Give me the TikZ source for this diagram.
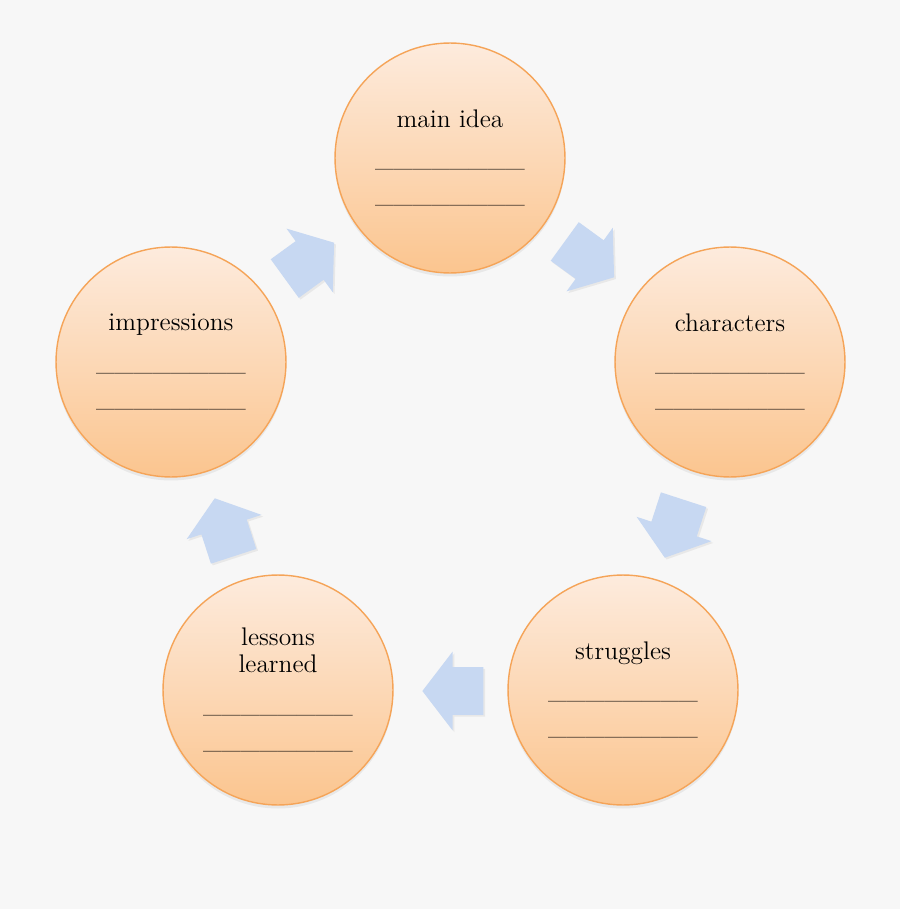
\documentclass[tikz,border=0pt]{standalone}
\usetikzlibrary{shapes.arrows,shadows}
\definecolor{bgcol}{HTML}{F7F7F7}
\definecolor{ringtop}{HTML}{FDEBDD}
\definecolor{ringbot}{HTML}{FBC58F}
\definecolor{ringedge}{HTML}{F5A458}
\definecolor{arrfill}{HTML}{C7D8F2}
\newcommand\blanks{\_\_\_\_\_\_\_\_}
\begin{document}
\begin{tikzpicture}[x=0.02cm,y=-0.02cm,
  topic/.style={circle, minimum size=4.6cm, inner sep=0pt, draw=ringedge, line width=0.8pt,
    top color=ringtop, bottom color=ringbot, align=center,
    font=\fontsize{14.5}{15.5}\selectfont,
    drop shadow={opacity=0.12, shadow xshift=0pt, shadow yshift=-2pt}},
  flow/.style={single arrow, minimum height=1.22cm, inner xsep=0pt, inner ysep=0.47cm,
    single arrow head extend=0.31cm, single arrow tip angle=105, fill=arrfill,
    drop shadow={opacity=0.12, shadow xshift=1pt, shadow yshift=-1pt}}]
\fill[bgcol] (0,0) rectangle (900,909);
\useasboundingbox (0,0) rectangle (900,909);
\node[topic] (c0) at (450,158){main idea\\[7pt]\blanks\\[5pt]\blanks};
\node[topic] (c1) at (730,362){characters\\[7pt]\blanks\\[5pt]\blanks};
\node[topic] (c2) at (623,690){struggles\\[7pt]\blanks\\[5pt]\blanks};
\node[topic] (c3) at (278,690){lessons\\learned\\[7pt]\blanks\\[5pt]\blanks};
\node[topic] (c4) at (171,362){impressions\\[7pt]\blanks\\[5pt]\blanks};
\node[flow, rotate=-36] (a0) at (582,254){};
\node[flow, rotate=-108] (a1) at (677,520){};
\node[flow, rotate=180] (a2) at (462,691){};
\node[flow, rotate=108] (a3) at (227,536){};
\node[flow, rotate=36] (a4) at (302,266){};
\end{tikzpicture}
\end{document}
